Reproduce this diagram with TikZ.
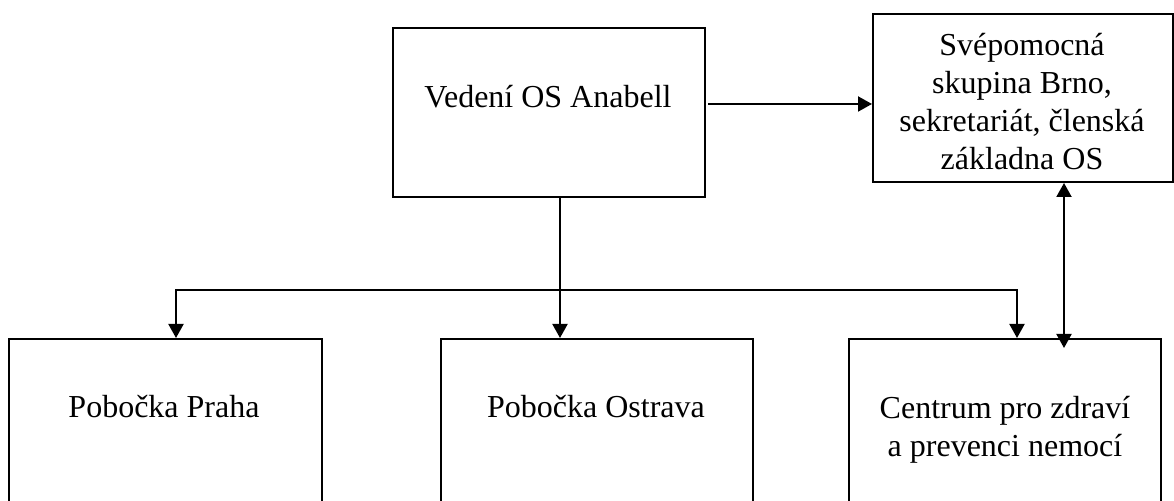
\documentclass[tikz,border=0pt]{standalone}
\usepackage{fontspec}
\setmainfont{Liberation Serif}
\usetikzlibrary{arrows.meta}
\tikzset{
	box/.style={draw, line width=1pt, minimum width=156pt, anchor=north west, inner sep=0pt},
	lbl/.style={align=center, font=\fontsize{16}{19}\selectfont},
}
\begin{document}
\begin{tikzpicture}[x=0.5pt, y=-0.5pt, line width=1pt, >={Triangle[width=7.5pt,length=7pt]}]
		\useasboundingbox (0,0) rectangle (1174,501);
		\clip (0,0) rectangle (1174,501);
		% upper row
		\node[box, minimum height=84.5pt] (vedeni) at (392,27) {};
		\node[box, minimum width=150pt, minimum height=84pt] (svep) at (872,13) {};
		% lower row
		\node[box, minimum width=156.5pt, minimum height=100pt] (praha) at (8,338) {};
		\node[box, minimum height=100pt] (ostrava) at (440,338) {};
		\node[box, minimum height=100pt] (centrum) at (848,338) {};
		% texts
		\node[lbl] (vedenitxt) at (548,97) {Vedení OS Anabell};
		\node[lbl] (sveptxt) at (1022,102) {Svépomocná\\skupina Brno,\\sekretariát, členská\\základna OS};
		\node[lbl] (prahatxt) at (164,407) {Pobočka Praha};
		\node[lbl] (ostravatxt) at (596,407) {Pobočka Ostrava};
		\node[lbl] (centrumtxt) at (1005,430) {Centrum pro zdraví\\a prevenci nemocí};
		% connectors
		\coordinate (fork) at (560,290);
		\coordinate (left) at (176,290);
		\coordinate (right) at (1017,290);
		\draw[->] (vedeni.south -| fork) -- (ostrava.north -| fork);
		\draw[<->] (praha.north -| left) -- (left) -- (right) -- (centrum.north -| right);
		\coordinate (out) at (708,104);
		\draw[->] (out) -- (out -| svep.west);
		\coordinate (link) at (1064,348);
		\draw[<->] (svep.south -| link) -- (link);
\end{tikzpicture}
\end{document}
